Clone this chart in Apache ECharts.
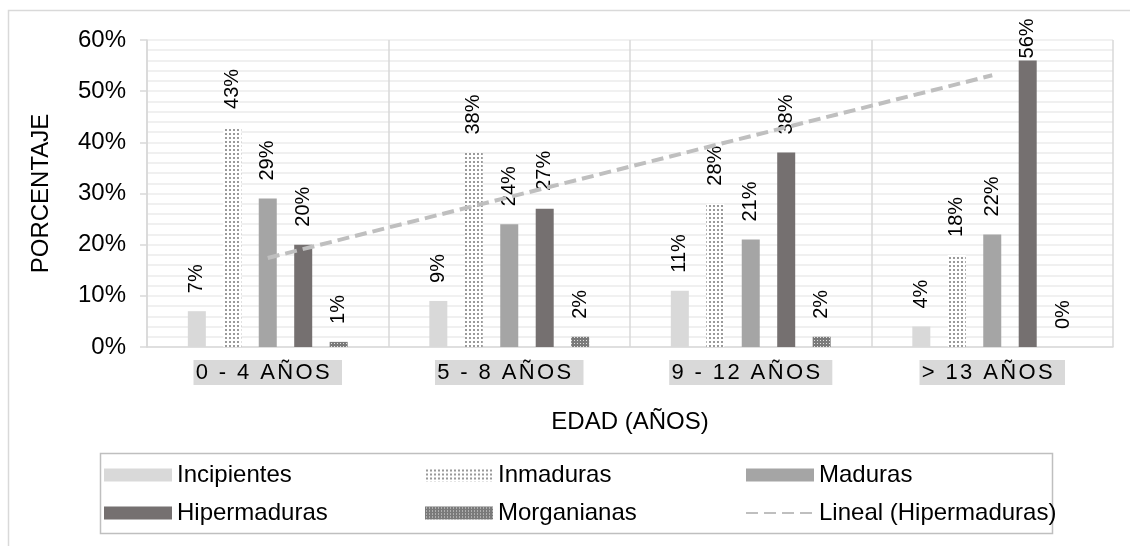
<!DOCTYPE html>
<html>
<head>
<meta charset="utf-8">
<script src="https://cdn.jsdelivr.net/npm/echarts@6/dist/echarts.min.js"></script>
<style>
  html, body { margin: 0; padding: 0; background: #fff; }
  #chart { width: 1130px; height: 546px; }
</style>
</head>
<body>
<div id="chart"></div>
<script>
// Age groups on the category axis
const categories = ['0 - 4 AÑOS', '5 - 8 AÑOS', '9 - 12 AÑOS', '> 13 AÑOS'];

// Percentages per cataract stage
const incipientes  = [7, 9, 11, 4];
const inmaduras    = [43, 38, 28, 18];
const maduras      = [29, 24, 21, 22];
const hipermaduras = [20, 27, 38, 56];
const morganianas  = [1, 2, 2, 0];

// Linear trend of Hipermaduras, read at each category centre
const trendHipermaduras = [17.4, 29.3, 41.2, 53.1];

// Y axis range and step
const yMin = 0, yMax = 60, yStep = 10;

const FONT = '"Liberation Sans", Arial, sans-serif';

// Small repeating tiles for the patterned bars
function makeTile(size, bg, fg, cells) {
  const c = document.createElement('canvas');
  c.width = size; c.height = size;
  const g = c.getContext('2d');
  g.fillStyle = bg; g.fillRect(0, 0, size, size);
  g.fillStyle = fg;
  cells.forEach(([x, y, w, h]) => g.fillRect(x, y, w, h));
  return c;
}
const dottedTile = makeTile(4, '#ffffff', '#9a9a9a', [[1, 1, 2, 2]]);
const gridTile = makeTile(3, '#7a7a7a', '#e2e2e2', [[1, 1, 1, 1]]);

const labelBase = {
  show: true,
  position: 'top',
  rotate: 90,
  align: 'left',
  verticalAlign: 'middle',
  distance: 18,
  fontSize: 20,
  fontFamily: FONT,
  color: '#000',
  formatter: p => p.value + '%'
};

// Keep tall-bar labels inside the chart area
function withLabels(values) {
  return values.map(v => v > 50 ? { value: v, label: { distance: 2 } } : v);
}

function barSeries(name, values, color) {
  return {
    name: name,
    type: 'bar',
    data: withLabels(values),
    barWidth: 18,
    barGap: '97%',
    itemStyle: { color: color },
    label: labelBase
  };
}

// Category labels with widened letter spacing
const spaced = v => v.split('').map(ch => '{c|' + ch + '}').join('');

const chart = echarts.init(document.getElementById('chart'), null, { renderer: 'canvas' });

const legendText = { fontSize: 24, fontFamily: FONT, color: '#000', lineHeight: 24 };
function legendCol(left, names) {
  return {
    orient: 'vertical',
    left: left,
    top: 463,
    padding: 0,
    itemWidth: 68,
    itemHeight: 13,
    itemGap: 14,
    itemTextGap: 7,
    selectedMode: false,
    textStyle: legendText,
    data: names
  };
}

chart.setOption({
  animation: false,
  backgroundColor: '#fff',
  grid: { left: 147, right: 17, top: 40, bottom: 199, containLabel: false },
  legend: [
    legendCol(104, [{ name: 'Incipientes', icon: 'rect' }, { name: 'Hipermaduras', icon: 'rect' }]),
    legendCol(425, [{ name: 'Inmaduras', icon: 'rect' }, { name: 'Morganianas', icon: 'rect' }]),
    legendCol(745, [{ name: 'Maduras', icon: 'rect' }, { name: 'Lineal (Hipermaduras)', itemStyle: { opacity: 0 } }])
  ],
  graphic: [
    {
      type: 'rect', silent: true, z: -1,
      shape: { x: 8.5, y: 10.5, width: 1200, height: 600 },
      style: { fill: null, stroke: '#d9d9d9', lineWidth: 1.5 }
    },
    {
      type: 'rect', silent: true,
      shape: { x: 100.5, y: 453.5, width: 952, height: 80 },
      style: { fill: null, stroke: '#bfbfbf', lineWidth: 1.5 }
    }
  ],
  xAxis: {
    type: 'category',
    data: categories,
    boundaryGap: true,
    name: 'EDAD (AÑOS)',
    nameLocation: 'middle',
    nameGap: 63,
    nameTextStyle: { fontSize: 24, fontFamily: FONT, color: '#000' },
    axisLine: { lineStyle: { color: '#d9d9d9', width: 1.5 } },
    axisTick: { show: false, interval: 0 },
    splitLine: { show: true, interval: 0, lineStyle: { color: '#d9d9d9', width: 1.5 } },
    axisLabel: {
      interval: 0,
      hideOverlap: false,
      margin: 13,
      formatter: spaced,
      backgroundColor: '#d9d9d9',
      padding: [0, 11, 0, 1],
      lineHeight: 25,
      fontSize: 22,
      fontFamily: FONT,
      color: '#000',
      rich: {
        c: { fontSize: 22, fontFamily: FONT, color: '#000', padding: [0, 1.2, 0, 1.2], lineHeight: 25 }
      }
    }
  },
  yAxis: {
    type: 'value',
    min: yMin,
    max: yMax,
    interval: yStep,
    name: 'PORCENTAJE',
    nameLocation: 'middle',
    nameGap: 94,
    nameRotate: 90,
    nameTextStyle: { fontSize: 24, fontFamily: FONT, color: '#000' },
    axisLine: { show: true, lineStyle: { color: '#d9d9d9', width: 1.5 } },
    axisTick: { show: true, length: 7, lineStyle: { color: '#d9d9d9', width: 1.5 } },
    axisLabel: { margin: 21, fontSize: 24, fontFamily: FONT, color: '#000', formatter: '{value}%' },
    splitLine: { show: true, lineStyle: { color: '#ececec', width: 1.5 } },
    minorTick: { show: false, splitNumber: 5 },
    minorSplitLine: { show: true, lineStyle: { color: '#ececec', width: 1.5 } }
  },
  series: [
    barSeries('Incipientes', incipientes, '#d9d9d9'),
    barSeries('Inmaduras', inmaduras, { image: dottedTile, repeat: 'repeat' }),
    barSeries('Maduras', maduras, '#a5a5a5'),
    barSeries('Hipermaduras', hipermaduras, '#757070'),
    barSeries('Morganianas', morganianas, { image: gridTile, repeat: 'repeat' }),
    {
      name: 'Lineal (Hipermaduras)',
      type: 'line',
      data: trendHipermaduras,
      symbol: 'none',
      z: 5,
      itemStyle: { color: '#bfbfbf' },
      lineStyle: { color: '#bfbfbf', width: 4, type: [12, 6] }
    }
  ]
});
</script>
</body>
</html>
